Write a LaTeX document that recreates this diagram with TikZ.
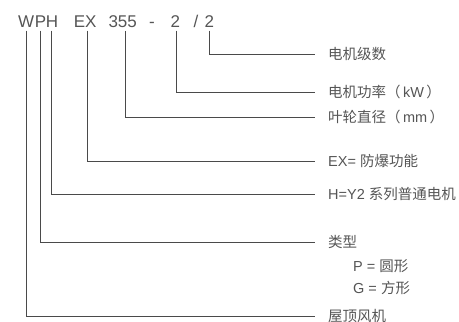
\documentclass[tikz,border=0pt]{standalone}
\usepackage{fontspec}
\setmainfont{Liberation Sans}
\newfontfamily\cjk{Noto Sans CJK SC}
\usetikzlibrary{calc}
\definecolor{txt}{HTML}{555555}
\definecolor{ln}{HTML}{4A4A4A}
\begin{document}
\begin{tikzpicture}[x=1pt,y=-1pt,
  tok/.style={anchor=base west,inner xsep=0pt,inner ysep=3pt,text=txt,font=\fontsize{17}{19}\selectfont},
  lab/.style={anchor=west,inner sep=0pt,text=txt,font=\fontsize{14.5}{17}\selectfont},
  conn/.style={draw=ln,line width=0.9pt}]
\useasboundingbox (0,0) rectangle (459,322);
% header tokens
\node[tok] (W) at (18,27.5) {W};
\node[tok] (P) at (34.6,27.5) {P};
\node[tok] (H) at (45.7,27.5) {H};
\node[tok] (EX) at (73.7,27.5) {EX};
\node[tok] (D) at (108.3,27.5) {355};
\node[tok] (dash) at (149,27.5) {-};
\node[tok] (K) at (170.5,27.5) {2};
\node[tok] (sl) at (193.5,27.5) {/};
\node[tok] (N) at (204.5,27.5) {2};
% labels
\node[lab] (l1) at (328,54) {\cjk 电机级数};
\node[lab] (l2) at (328,92) {{\cjk 电机功率（}\,kW\,{\cjk ）}};
\node[lab] (l3) at (328,117) {{\cjk 叶轮直径（}\,mm\,{\cjk ）}};
\node[lab] (l4) at (328,161) {EX= {\cjk 防爆功能}};
\node[lab] (l5) at (328,194) {H=Y2 {\cjk 系列普通电机}};
\node[lab] (l6) at (328,242) {\cjk 类型};
\node[lab] (l6a) at (353,266) {P = {\cjk 圆形}};
\node[lab] (l6b) at (353,288) {G = {\cjk 方形}};
\node[lab] (l7) at (328,316) {\cjk 屋顶风机};
% connectors
\draw[conn] (N.south) |- ([xshift=-13pt]l1.west);
\draw[conn] ([xshift=0.8pt]K.south) |- ([xshift=-13pt]l2.west);
\draw[conn] ([xshift=2.5pt]D.south) |- ([xshift=-13pt]l3.west);
\draw[conn] ([xshift=2pt]EX.south) |- ([xshift=-13pt]l4.west);
\draw[conn] ([xshift=-0.8pt]H.south) |- ([xshift=-13pt]l5.west);
\draw[conn] (P.south) |- ([xshift=-13pt]l6.west);
\draw[conn] (W.south) |- ([xshift=-13pt]l7.west);
\end{tikzpicture}
\end{document}
